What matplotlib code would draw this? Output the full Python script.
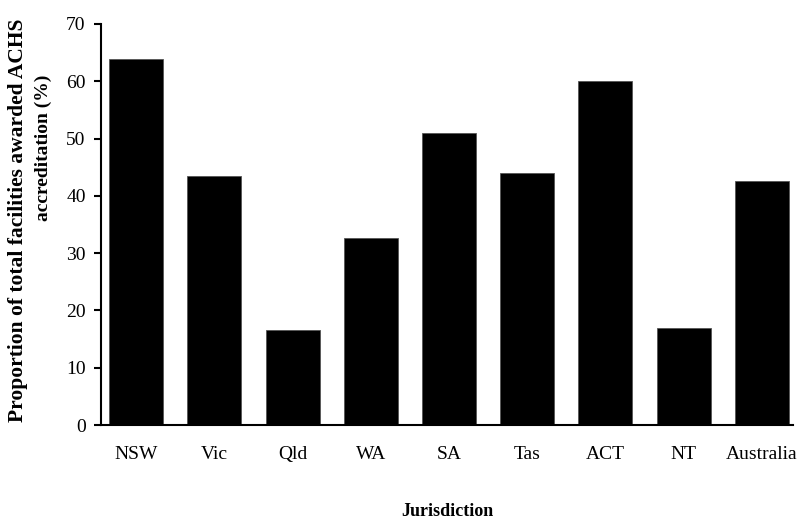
import matplotlib.pyplot as plt

plt.rcParams['font.family'] = ['Liberation Serif', 'DejaVu Serif']

jurisdictions = ['NSW', 'Vic', 'Qld', 'WA', 'SA', 'Tas', 'ACT', 'NT', 'Australia']
proportion = [63.9, 43.5, 16.5, 32.6, 51.0, 44.0, 60.0, 17.0, 42.6]

fig = plt.figure(figsize=(8.06, 5.25), dpi=100)
ax = fig.add_axes([101 / 806, 1 - 425 / 525, 692 / 806, 401 / 525])

x = range(len(jurisdictions))
ax.bar(x, proportion, width=0.69, color='black', edgecolor='#555555', linewidth=0.6)

ax.set_xlim(-0.45, 8.4)
ax.set_ylim(0, 70)
ax.set_yticks(range(0, 71, 10))
ax.set_xticks(list(x))
ax.set_xticklabels(jurisdictions)
ax.tick_params(axis='x', length=0, pad=15, labelsize=14)
ax.tick_params(axis='y', direction='out', length=5, width=1.5, labelsize=14, pad=6)

for s in ['top', 'right']:
    ax.spines[s].set_visible(False)
ax.spines['left'].set_linewidth(1.5)
ax.spines['bottom'].set_linewidth(1.5)

# axis titles
fig.text(447 / 806, 1 - 511 / 525, 'Jurisdiction', ha='center', va='center',
         fontweight='bold', fontsize=13)
fig.text(18 / 806, 1 - 220 / 525, 'Proportion of total facilities awarded ACHS',
         rotation=90, ha='center', va='center', fontweight='bold', fontsize=15.5)
fig.text(43 / 806, 1 - 148 / 525, 'accreditation (%)',
         rotation=90, ha='center', va='center', fontweight='bold', fontsize=14)

fig.savefig('out.png', dpi=100)
